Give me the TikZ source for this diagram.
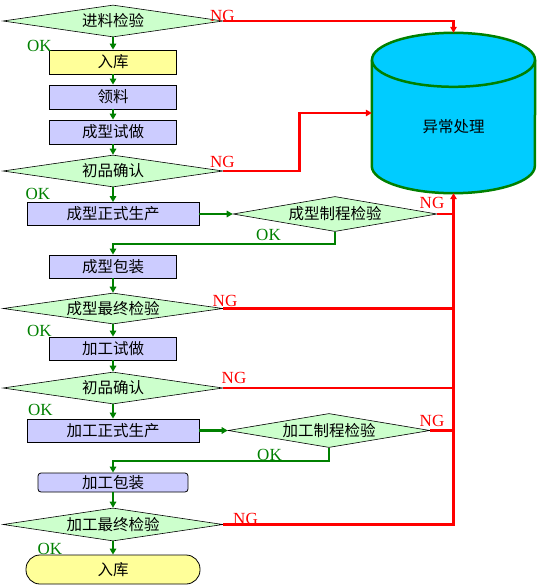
\documentclass[tikz,border=0pt]{standalone}
\usepackage{fontspec}
\setmainfont{Liberation Serif}
\newfontfamily\cjkfont{Noto Sans CJK SC}
\usetikzlibrary{arrows.meta,calc,shapes.geometric}
\usepackage{xcolor}
\definecolor{colorccffcc}{HTML}{CCFFCC}
\definecolor{colorccccff}{HTML}{CCCCFF}
\definecolor{colorffff99}{HTML}{FFFF99}
\definecolor{color00ccff}{HTML}{00CCFF}
\definecolor{color008000}{HTML}{008000}

\begin{document}
\begin{tikzpicture}
    [x=1pt, y=-1pt,
     >={Triangle[length=6pt,width=6.5pt]},  % Uniform arrow style
     cjk/.style={font=\cjkfont\fontsize{15.5pt}{16pt}\selectfont},
     decision/.style={diamond, aspect=6, fill=colorccffcc, draw=black, line width=0.6pt, inner sep=0pt, minimum width=220pt, minimum height=32pt, cjk},
     process/.style={rectangle, fill=colorccccff, draw=black, line width=0.8pt, inner sep=0pt, minimum width=127pt, minimum height=24pt, cjk},
     okline/.style={draw=color008000, line width=2.3pt, ->},
     ngline/.style={draw=red, line width=2.8pt},
     oklabel/.style={text=color008000, font=\fontsize{17pt}{17pt}\selectfont, inner sep=0pt},
     nglabel/.style={text=red, font=\fontsize{17pt}{17pt}\selectfont, inner sep=0pt},
    ]

\useasboundingbox (0,0) rectangle (537,586);

\node[decision] (node_check_in) at (113,21) {进料检验};
\node[process, fill=colorffff99] (node_store_a) at (113,62) {入库};
\node[process] (node_pick) at (113,97) {领料};
\node[process] (node_trial_a) at (113,132) {成型试做};
\node[decision] (node_first_a) at (113,171) {初品确认};
\node[process, minimum width=172pt, minimum height=23pt] (node_prod_a) at (113,214) {成型正式生产};
\node[decision, minimum width=204pt, minimum height=35pt] (node_proc_a) at (335,214) {成型制程检验};
\node[process, minimum height=23pt] (node_pack_a) at (113,266.5) {成型包装};
\node[decision, minimum height=31pt] (node_final_a) at (113,308.5) {成型最终检验};
\node[process, minimum height=23pt] (node_trial_b) at (113,348.5) {加工试做};
\node[decision] (node_first_b) at (113,388) {初品确认};
\node[process, minimum width=172pt, minimum height=23pt] (node_prod_b) at (113,430.5) {加工正式生产};
\node[decision, minimum width=202pt, minimum height=34pt] (node_proc_b) at (329,430.5) {加工制程检验};
\node[process, minimum width=150pt, minimum height=19pt, rounded corners=3pt] (node_pack_b) at (113,482.5) {加工包装};
\node[decision, minimum height=33pt] (node_final_b) at (113,524.5) {加工最终检验};
\node[process, fill=colorffff99, minimum width=174pt, minimum height=29pt, rounded corners=14pt] (node_store_b) at (113,569.5) {入库};

% abnormal handling drum
\node[minimum width=163pt, minimum height=160pt, inner sep=0pt] (node_error) at (453.5,113) {};
\filldraw[fill=color00ccff, draw=color008000, line width=2.5pt] ($(node_error.north west)+(0,27)$) -- ($(node_error.south west)+(0,-27)$) arc[start angle=180, end angle=360, x radius=81.5pt, y radius=27pt] -- ($(node_error.north east)+(0,27)$);
\filldraw[fill=color00ccff, draw=color008000, line width=2.5pt] ($(node_error.north)+(0,27)$) ellipse[x radius=81.5pt, y radius=27pt];
\node[cjk] (node_error_text) at ($(node_error.center)+(0,14)$) {异常处理};

% OK flow
\draw[okline] (node_check_in.south) -- (node_store_a.north);
\draw[okline] (node_store_a.south) -- (node_pick.north);
\draw[okline] (node_pick.south) -- (node_trial_a.north);
\draw[okline] (node_trial_a.south) -- (node_first_a.north);
\draw[okline] (node_first_a.south) -- (node_prod_a.north);
\draw[okline] (node_prod_a.east) -- (node_proc_a.west);
\draw[okline] (node_proc_a.south) -- ++(0,12) -| (node_pack_a.north);
\draw[okline] (node_pack_a.south) -- (node_final_a.north);
\draw[okline] (node_final_a.south) -- (node_trial_b.north);
\draw[okline] (node_trial_b.south) -- (node_first_b.north);
\draw[okline] (node_first_b.south) -- (node_prod_b.north);
\draw[okline] (node_prod_b.east) -- (node_proc_b.west);
\draw[okline] (node_proc_b.south) -- ++(0,13) -| (node_pack_b.north);
\draw[okline] (node_pack_b.south) -- (node_final_b.north);
\draw[okline] (node_final_b.south) -- (node_store_b.north);

% NG flow
\draw[ngline, ->] (node_check_in.east) -| (node_error.north);
\draw[ngline, ->] (node_first_a.east) -- ++(76,0) |- (node_error.west);
\draw[ngline, ->] (node_final_b.east) -| (node_error.south);
\draw[ngline] (node_proc_a.east) -- (node_proc_a.east -| node_error.south);
\draw[ngline] (node_final_a.east) -- (node_final_a.east -| node_error.south);
\draw[ngline] (node_first_b.east) -- (node_first_b.east -| node_error.south);
\draw[ngline] (node_proc_b.east) -- (node_proc_b.east -| node_error.south);

\node[oklabel] (ok_check_in) at (39.5,46) {OK};
\node[oklabel] (ok_first_a) at (38,194) {OK};
\node[oklabel] (ok_proc_a) at (268.5,235) {OK};
\node[oklabel] (ok_final_a) at (39.5,331) {OK};
\node[oklabel] (ok_first_b) at (40.5,410) {OK};
\node[oklabel] (ok_proc_b) at (269.5,455) {OK};
\node[oklabel] (ok_final_b) at (50,548.5) {OK};

\node[nglabel] (ng_check_in) at (222.5,16) {NG};
\node[nglabel] (ng_first_a) at (222.5,162) {NG};
\node[nglabel] (ng_proc_a) at (432,202.5) {NG};
\node[nglabel] (ng_final_a) at (225,301) {NG};
\node[nglabel] (ng_first_b) at (234,377.5) {NG};
\node[nglabel] (ng_proc_b) at (432,420.5) {NG};
\node[nglabel] (ng_final_b) at (245.5,518.5) {NG};

\end{tikzpicture}
\end{document}
